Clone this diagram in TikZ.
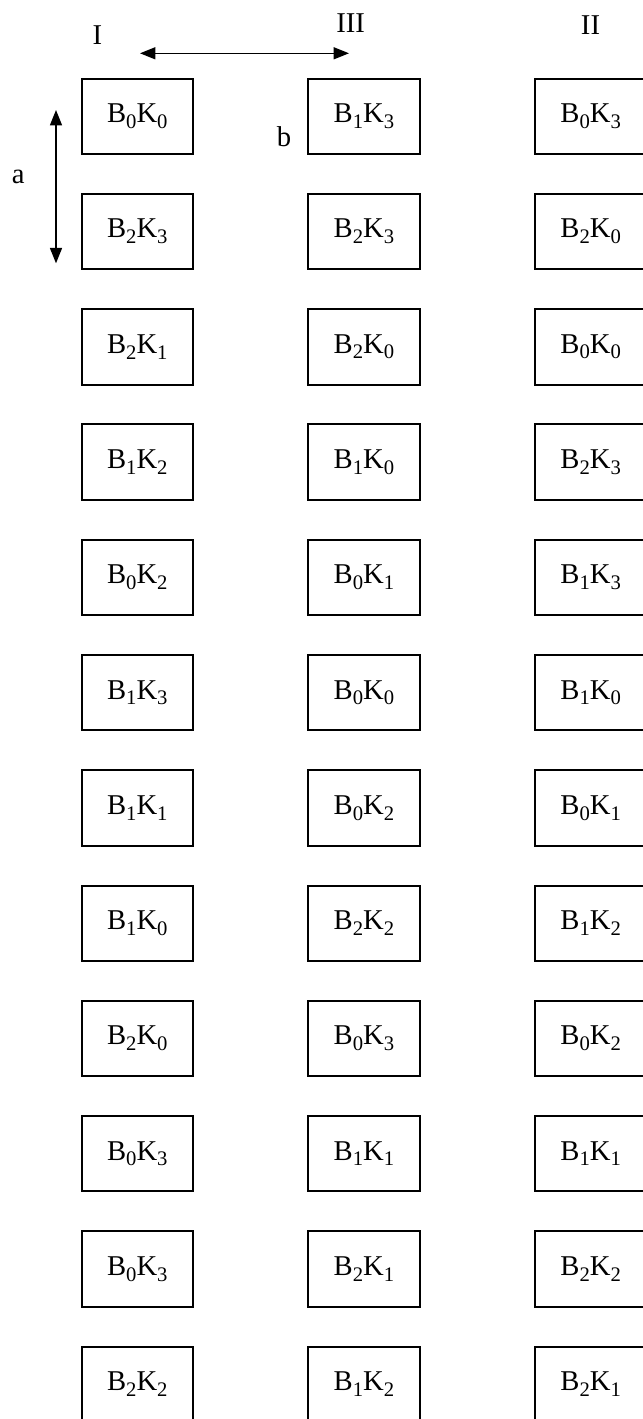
\documentclass[tikz,border=0pt]{standalone}
\usepackage{fontspec}
\setmainfont{Liberation Serif}
\usepackage{tikz}
\usetikzlibrary{arrows.meta, positioning}

\newcommand{\lowsub}[1]{\raisebox{-4.3pt}{\fontsize{15.5}{16}\selectfont #1}}
\newcommand{\bk}[2]{B\lowsub{#1}K\lowsub{#2}}

\begin{document}
\begin{tikzpicture}[x=0.75pt, y=-0.75pt,
    node distance=28.45pt and 85pt,
    cell/.style={draw, line width=1.5pt, minimum width=83.5pt, minimum height=56.5pt, inner sep=0pt, font=\fontsize{21.5}{24}\selectfont},
    lbl/.style={inner sep=0pt, font=\fontsize{21.5}{24}\selectfont},
    dbl/.style={draw, line width=1pt, {Triangle[length=11.5pt, width=9pt]}-{Triangle[length=11.5pt, width=9pt]}}
]
    \useasboundingbox (0,0) rectangle (642,1419);

    % Column I
    \node[cell] (i1) at (137.3,116.3) {\bk00};
    \node[cell, below=of i1] (i2) {\bk23};
    \node[cell, below=of i2] (i3) {\bk21};
    \node[cell, below=of i3] (i4) {\bk12};
    \node[cell, below=of i4] (i5) {\bk02};
    \node[cell, below=of i5] (i6) {\bk13};
    \node[cell, below=of i6] (i7) {\bk11};
    \node[cell, below=of i7] (i8) {\bk10};
    \node[cell, below=of i8] (i9) {\bk20};
    \node[cell, below=of i9] (i10) {\bk03};
    \node[cell, below=of i10] (i11) {\bk03};
    \node[cell, below=of i11] (i12) {\bk22};

    % Column III
    \node[cell, right=of i1] (iii1) {\bk13};
    \node[cell, below=of iii1] (iii2) {\bk23};
    \node[cell, below=of iii2] (iii3) {\bk20};
    \node[cell, below=of iii3] (iii4) {\bk10};
    \node[cell, below=of iii4] (iii5) {\bk01};
    \node[cell, below=of iii5] (iii6) {\bk00};
    \node[cell, below=of iii6] (iii7) {\bk02};
    \node[cell, below=of iii7] (iii8) {\bk22};
    \node[cell, below=of iii8] (iii9) {\bk03};
    \node[cell, below=of iii9] (iii10) {\bk11};
    \node[cell, below=of iii10] (iii11) {\bk21};
    \node[cell, below=of iii11] (iii12) {\bk12};

    % Column II
    \node[cell, right=of iii1] (ii1) {\bk03};
    \node[cell, below=of ii1] (ii2) {\bk20};
    \node[cell, below=of ii2] (ii3) {\bk00};
    \node[cell, below=of ii3] (ii4) {\bk23};
    \node[cell, below=of ii4] (ii5) {\bk13};
    \node[cell, below=of ii5] (ii6) {\bk10};
    \node[cell, below=of ii6] (ii7) {\bk01};
    \node[cell, below=of ii7] (ii8) {\bk12};
    \node[cell, below=of ii8] (ii9) {\bk02};
    \node[cell, below=of ii9] (ii10) {\bk11};
    \node[cell, below=of ii10] (ii11) {\bk22};
    \node[cell, below=of ii11] (ii12) {\bk21};

    % Headings and labels
    \node[lbl] (headI) at (97.5,35) {I};
    \node[lbl] (headIII) at (350.7,23) {III};
    \node[lbl] (headII) at (590.5,25) {II};
    \node[lbl] (laba) at (18.3,176.7) {a};
    \node[lbl] (labb) at (284,136.7) {b};

    % Arrows
    \coordinate (hleft) at (140,53.3);
    \coordinate (hright) at (349,53.3);
    \coordinate (vtop) at (56,110);
    \coordinate (vbot) at (56,263.3);
    \draw[dbl] (hleft) -- (hright);
    \draw[dbl] (vtop) -- (vbot);

\end{tikzpicture}
\end{document}
